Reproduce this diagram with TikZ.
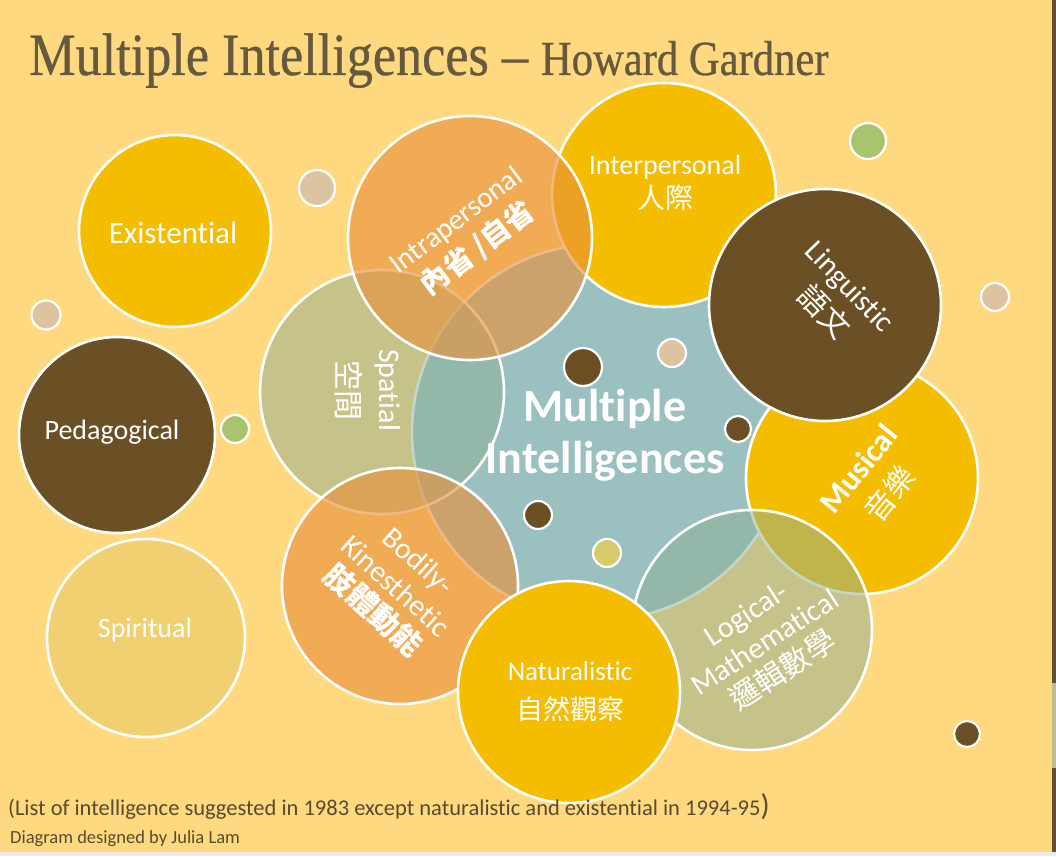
\documentclass[tikz,border=0pt]{standalone}
\usepackage{fontspec}
\setmainfont{Carlito}[Ligatures=NoCommon]
\newfontfamily\cjk{Noto Sans CJK TC}
\newfontfamily\titlefont[FakeStretch=0.87,FakeBold=0.6]{Liberation Serif}
\definecolor{bgc}{HTML}{FFD97F}
\definecolor{goldc}{HTML}{F5BD00}
\definecolor{brownc}{HTML}{6B4F25}
\definecolor{spiritc}{HTML}{F0D070}
\definecolor{tealc}{HTML}{9BC0C0}
\definecolor{greenc}{RGB}{140,175,148}
\definecolor{orangec}{RGB}{232,145,60}
\definecolor{tanc}{HTML}{DDC3A0}
\definecolor{leafc}{HTML}{A9C46F}
\definecolor{olivec}{HTML}{D5CB6A}
\definecolor{titlec}{HTML}{665A3E}
\definecolor{footc}{HTML}{5A4A2E}
\begin{document}
\begin{tikzpicture}[x=1pt,y=-1pt,
  bigc/.style={circle, draw=white, line width=2.6pt, inner sep=0pt, minimum size=#1},
  dotc/.style={circle, draw=white, line width=2.2pt, inner sep=0pt, minimum size=#1},
  lbl/.style={text=white, align=center, font=\fontsize{28}{34}\selectfont}]
\fill[bgc] (0,0) rectangle (1056,856);
\useasboundingbox (0,0) rectangle (1056,856);
\fill[fill=titlec!90!black] (1052,0) rectangle (1056,852);
\fill[fill=black!30!olivec!60!white] (1052,683) rectangle (1056,768);
\fill[fill=black!8] (0,852) rectangle (1056,856);
% title
\node[anchor=base west, inner sep=0pt, text=titlec] (title) at (29,75)
  {\titlefont\fontsize{60}{60}\selectfont Multiple Intelligences – {\fontsize{49}{49}\selectfont Howard Gardner}};
% isolated circles
\node[bigc=192, fill=goldc] (exist) at (175,231) {};
\node[bigc=196, fill=brownc] (peda) at (117,435) {};
\node[bigc=198, fill=spiritc] (spirit) at (146,638) {};
% cluster
\node[bigc=376, fill=tealc] (core) at (600,432) {};
\node[bigc=224, fill=goldc] (inter) at (664,195) {};
\node[bigc=232, fill=goldc] (musical) at (862,478) {};
\node[bigc=244, fill=greenc, fill opacity=.5] (spatial) at (382,392) {};
\node[bigc=244, fill=orangec, fill opacity=.63] (intra) at (470,238) {};
\node[bigc=232, fill=brownc] (ling) at (825,305) {};
\node[bigc=236, fill=orangec, fill opacity=.63] (bodily) at (400,586) {};
\node[bigc=240, fill=greenc, fill opacity=.5] (logic) at (752,630) {};
\node[bigc=222, fill=goldc] (natural) at (569,692) {};
% small dots
\node[dotc=36, fill=tanc] (d1) at (317,188) {};
\node[dotc=29, fill=tanc] (d2) at (46,315) {};
\node[dotc=36, fill=leafc] (d3) at (868,141) {};
\node[dotc=28, fill=tanc] (d4) at (995,297) {};
\node[dotc=28, fill=leafc] (d5) at (235,429) {};
\node[dotc=38, fill=brownc] (d6) at (583,367) {};
\node[dotc=28, fill=tanc] (d7) at (672,353) {};
\node[dotc=26, fill=brownc] (d8) at (738,429) {};
\node[dotc=28, fill=brownc] (d9) at (538,515) {};
\node[dotc=28, fill=olivec] (d10) at (607,553) {};
\node[dotc=26, fill=brownc] (d11) at (967,734) {};
% labels
\node[lbl, font=\fontsize{31}{34}\selectfont] (tExist) at (173,233) {Existential};
\node[lbl] (tPeda) at (112,432) {Pedagogical};
\node[lbl] (tSpirit) at (145,630) {Spiritual};
\node[lbl, font=\bfseries\fontsize{46}{52}\selectfont] (tCore) at (605,435) {Multiple\\Intelligences};
\node[lbl] (tInter) at (665,183) {Interpersonal\\{\cjk 人際}};
\node[lbl, rotate=37, font=\fontsize{29}{36}\selectfont] (tIntra) at (468,236) {Intrapersonal\\{\cjk\bfseries 內省 /自省}};
\node[lbl, rotate=-90, font=\fontsize{30}{42}\selectfont] (tSpatial) at (368,390) {Spatial\\{\cjk 空間}};
\node[lbl, rotate=-46, font=\fontsize{30}{37}\selectfont] (tLing) at (836,300) {Linguistic\\{\cjk 語文}};
\node[lbl, rotate=51, font=\fontsize{30}{40}\selectfont] (tMusic) at (875,482) {{\bfseries\fontsize{32}{40}\selectfont Musical}\\{\cjk 音樂}};
\node[lbl, rotate=-42, font=\fontsize{30}{34}\selectfont] (tBodily) at (395,587) {Bodily-\\Kinesthetic\\{\cjk\bfseries 肢體動能}};
\node[lbl, rotate=33, font=\fontsize{30}{34}\selectfont] (tLogic) at (765,643) {Logical-\\Mathematical\\{\cjk 邏輯數學}};
\node[lbl, font=\fontsize{27}{39}\selectfont] (tNat) at (570,692) {Naturalistic\\{\cjk 自然觀察}};
% footnotes
\node[anchor=base west, inner sep=0pt, text=footc, font=\fontsize{22.5}{22.5}\selectfont] (note) at (8,815)
  {(List of intelligence suggested in 1983 except naturalistic and existential in 1994-95{\fontsize{30}{30}\selectfont)}};
\node[anchor=base west, inner sep=0pt, text=footc, font=\fontsize{18.5}{18.5}\selectfont] (credit) at (10,843)
  {Diagram designed by Julia Lam};
\end{tikzpicture}
\end{document}
